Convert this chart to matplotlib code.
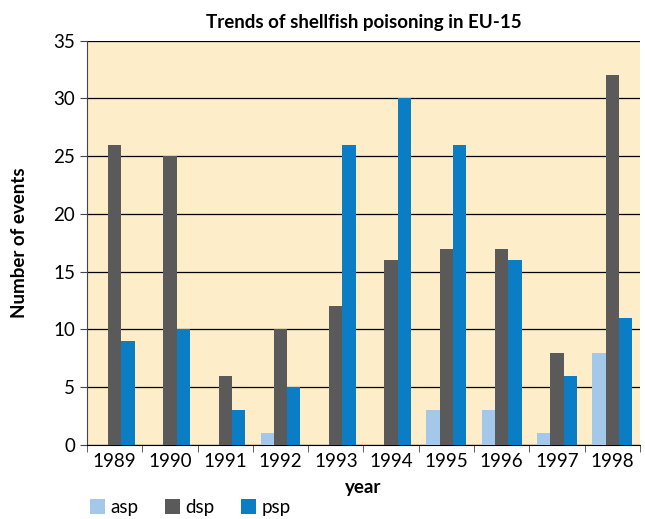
import numpy as np
import matplotlib.pyplot as plt
import matplotlib as mpl

mpl.rcParams['font.family'] = ['Lato', 'DejaVu Sans']

years = ['1989', '1990', '1991', '1992', '1993', '1994', '1995', '1996', '1997', '1998']
asp = [0, 0, 0, 1, 0, 0, 3, 3, 1, 8]
dsp = [26, 25, 6, 10, 12, 16, 17, 17, 8, 32]
psp = [9, 10, 3, 5, 26, 30, 26, 16, 6, 11]

colors = {'asp': '#a4c8ea', 'dsp': '#5a5a5a', 'psp': '#0a7dc4'}

fig = plt.figure(figsize=(6.45, 5.19), dpi=100)
ax = fig.add_axes([0.135, 0.1426, 0.857, 0.779])
ax.set_facecolor('#fdedc9')

x = np.arange(len(years))
w = 0.24
ax.bar(x - w, asp, w, color=colors['asp'], label='asp', zorder=3)
ax.bar(x, dsp, w, color=colors['dsp'], label='dsp', zorder=3)
ax.bar(x + w, psp, w, color=colors['psp'], label='psp', zorder=3)

ax.set_xlim(-0.5, len(years) - 0.5)
ax.set_ylim(0, 35)
ax.set_yticks(range(0, 36, 5))
ax.yaxis.grid(True, color='black', linewidth=0.9, zorder=1)
ax.set_axisbelow(True)

ax.set_xticks(x)
ax.set_xticklabels(years)
ax.set_xticks(np.arange(-0.5, len(years), 1), minor=True)
ax.tick_params(axis='x', which='major', length=0, labelsize=13.5, pad=6)
ax.tick_params(axis='x', which='minor', length=5, color='#444444', direction='out')
ax.tick_params(axis='y', length=5, labelsize=13.5, color='#444444')

for s in ['top', 'right']:
    ax.spines[s].set_visible(False)
ax.spines['left'].set_color('#444444')
ax.spines['bottom'].set_color('black')

ax.set_title('Trends of shellfish poisoning in EU-15', fontsize=13.5, fontweight='bold', pad=9)
ax.set_ylabel('Number of events', fontsize=13.5, fontweight='bold', labelpad=18)
ax.set_xlabel('year', fontsize=13.5, fontweight='bold', labelpad=6)

fig.legend(loc='center left', bbox_to_anchor=(0.128, 0.022), ncol=3, frameon=False,
           fontsize=13.5, handlelength=0.8, handleheight=0.8, handletextpad=0.3,
           columnspacing=1.4, borderaxespad=0)

fig.savefig('out.png', dpi=100)
